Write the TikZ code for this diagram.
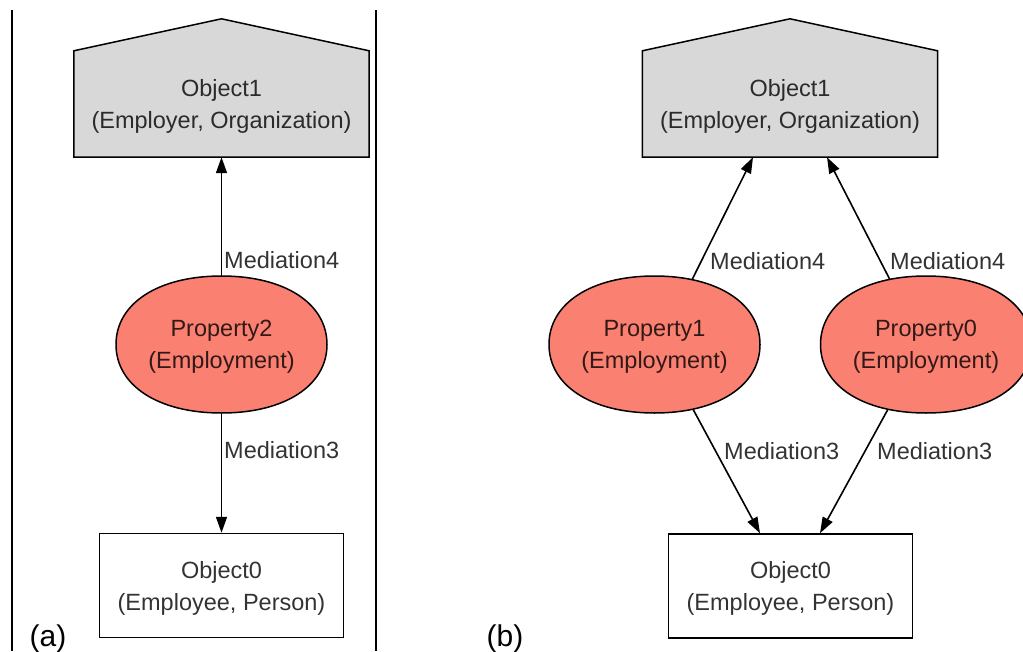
\documentclass[tikz,border=0pt]{standalone}
\usepackage{fontspec}
\setmainfont{Liberation Sans}
\usetikzlibrary{arrows.meta,shapes.geometric}

% edges go underneath the filled shapes, text sits on top
\pgfdeclarelayer{edgelayer}
\pgfdeclarelayer{shapelayer}
\pgfsetlayers{edgelayer,shapelayer,main}

\definecolor{salmonfill}{HTML}{FA8072}
\definecolor{roofgray}{HTML}{D8D8D8}

\tikzset{
  txt/.style={text=black, text opacity=0.8, align=center, inner sep=0pt},
  twoline/.style={txt, text depth=-3.5pt, font=\fontsize{23.5}{32}\selectfont},
  housenode/.style={twoline, minimum width=295pt, minimum height=106pt},
  boxnode/.style={twoline, draw, line width=1.5pt, fill=white,
                  minimum width=244pt, minimum height=104pt},
  propnode/.style={twoline, ellipse, minimum width=211pt, minimum height=137pt},
  outline/.style={draw=black, line width=1.5pt, line join=miter},
  link/.style={line width=1.6pt, -{Triangle[length=16pt,width=11pt]}},
  edgelabel/.style={txt, font=\fontsize{23.5}{28}\selectfont, anchor=base west},
  panel/.style={font=\fontsize{30}{36}\selectfont, anchor=base, inner sep=0pt},
  divider/.style={line width=1.2pt},
}

% house outline (pointed roof) around a rectangular node
\newcommand{\drawhouse}[1]{%
  \begin{pgfonlayer}{shapelayer}
    \draw[outline, fill=roofgray] (#1.south west) -- (#1.north west)
      -- ([yshift=32pt]#1.north) -- (#1.north east) -- (#1.south east) -- cycle;
  \end{pgfonlayer}}

% rounded blob (squarish ellipse) around a property node
\newcommand{\drawblob}[1]{%
  \begin{pgfonlayer}{shapelayer}
    \draw[outline, fill=salmonfill]
      ([xshift=105.5pt]#1.center)
        .. controls +(0pt,41.1pt) and +(63.3pt,0pt) .. ([yshift=68.5pt]#1.center)
        .. controls +(-63.3pt,0pt) and +(0pt,41.1pt) .. ([xshift=-105.5pt]#1.center)
        .. controls +(0pt,-41.1pt) and +(-63.3pt,0pt) .. ([yshift=-68.5pt]#1.center)
        .. controls +(63.3pt,0pt) and +(0pt,-41.1pt) .. ([xshift=105.5pt]#1.center)
        -- cycle;
  \end{pgfonlayer}}

\begin{document}
\begin{tikzpicture}[x=1pt, y=-1pt]
  \useasboundingbox (0,0) rectangle (1023,651);

  % panel dividers
  \draw[divider] (12,10) -- (12,651);
  \draw[divider] (376,10) -- (376,651);

  % ---------- panel (a) ----------
  \node[housenode] (o1a) at (221.5,104) {Object1\\(Employer, Organization)};
  \node[propnode]  (p2)  at (221.5,344.5) {Property2\\(Employment)};
  \node[boxnode]   (o0a) at (221.5,585.5) {Object0\\(Employee, Person)};
  \drawhouse{o1a}
  \drawblob{p2}

  \begin{pgfonlayer}{edgelayer}
    \draw[link] ([yshift=-4pt]p2.north) -- (o1a.south);
    \draw[link] ([yshift=4pt]p2.south) -- (o0a.north);
  \end{pgfonlayer}
  \node[edgelabel] (m4a) at (224,268.5) {Mediation4};
  \node[edgelabel] (m3a) at (224,458.5) {Mediation3};

  \node[panel] (capa) at (48,646) {(a)};

  % ---------- panel (b) ----------
  \node[housenode] (o1b) at (790,104) {Object1\\(Employer, Organization)};
  \node[propnode]  (p1)  at (654.5,344.5) {Property1\\(Employment)};
  \node[propnode]  (p0)  at (926,344.5) {Property0\\(Employment)};
  \node[boxnode]   (o0b) at (790.5,586) {Object0\\(Employee, Person)};
  \drawhouse{o1b}
  \drawblob{p1}
  \drawblob{p0}

  \begin{pgfonlayer}{edgelayer}
    \draw[link] ([xshift=37.5pt,yshift=-4pt]p1.north) -- ([xshift=-37pt]o1b.south);
    \draw[link] ([xshift=-36pt,yshift=-4pt]p0.north) -- ([xshift=37pt]o1b.south);
    \draw[link] ([xshift=38.5pt,yshift=4pt]p1.south) -- ([xshift=-30.5pt]o0b.north);
    \draw[link] ([xshift=-38pt,yshift=4pt]p0.south) -- ([xshift=29.5pt]o0b.north);
  \end{pgfonlayer}
  \node[edgelabel] (m4b) at (710,269) {Mediation4};
  \node[edgelabel] (m4c) at (890,269) {Mediation4};
  \node[edgelabel] (m3b) at (724,459) {Mediation3};
  \node[edgelabel] (m3c) at (877,459) {Mediation3};

  \node[panel] (capb) at (505,646) {(b)};
\end{tikzpicture}
\end{document}
